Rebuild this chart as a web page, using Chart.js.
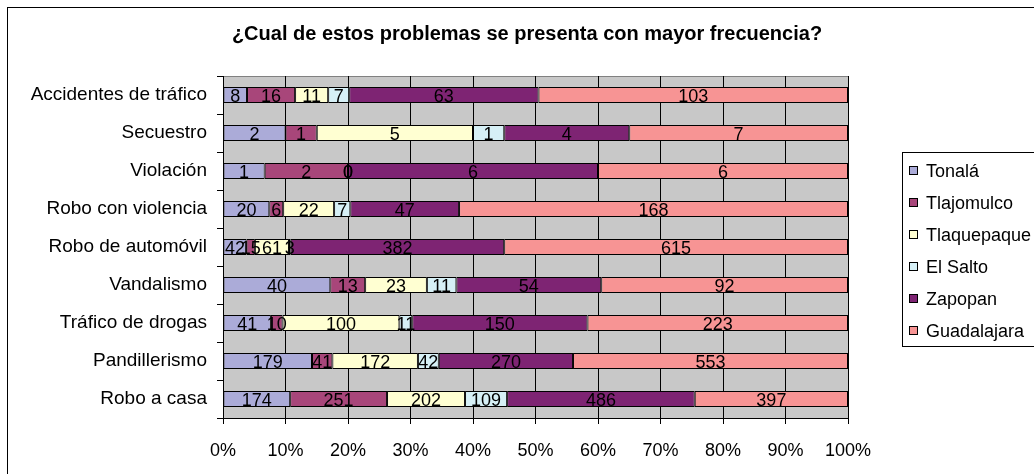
<!DOCTYPE html>
<html>
<head>
<meta charset="utf-8">
<script src="https://cdn.jsdelivr.net/npm/chart.js@4.4.0/dist/chart.umd.min.js"></script>
<style>
  html, body { margin: 0; padding: 0; background: #fff; }
  #wrap { width: 1034px; height: 474px; position: relative; }
</style>
</head>
<body>
<div id="wrap"><canvas id="chart" width="1034" height="474"></canvas></div>
<script>
// categories (top to bottom)
const problemas = ['Accidentes de tráfico', 'Secuestro', 'Violación', 'Robo con violencia',
    'Robo de automóvil', 'Vandalismo', 'Tráfico de drogas', 'Pandillerismo', 'Robo a casa'];

// series values, one array per municipality
const tonala      = [8,   2, 1, 20,  42, 40,  41, 179, 174];
const tlajomulco  = [16,  1, 2,  6,  15, 13,  10,  41, 251];
const tlaquepaque = [11,  5, 0, 22,  61, 23, 100, 172, 202];
const elSalto     = [7,   1, 0,  7,   3, 11,  11,  42, 109];
const zapopan     = [63,  4, 6, 47, 382, 54, 150, 270, 486];
const guadalajara = [103, 7, 6, 168, 615, 92, 223, 553, 397];

const municipios = ['Tonalá', 'Tlajomulco', 'Tlaquepaque', 'El Salto', 'Zapopan', 'Guadalajara'];
const series = [tonala, tlajomulco, tlaquepaque, elSalto, zapopan, guadalajara];
const colores = ['#ABABD8', '#A8467A', '#FFFFD2', '#D6F0F6', '#7E2473', '#F79494'];

const xTicks = [0, 10, 20, 30, 40, 50, 60, 70, 80, 90, 100];

const FONT = 'Arial, "Liberation Sans", sans-serif';

// row totals to turn counts into 100% stacked shares
const totales = problemas.map((_, i) => series.reduce((s, arr) => s + arr[i], 0));

const datasets = series.map((arr, k) => ({
    label: municipios[k],
    data: arr.map((v, i) => v / totales[i] * 100),
    raw: arr,
    backgroundColor: colores[k],
    borderColor: '#000',
    borderWidth: 1,
    borderSkipped: false,
    categoryPercentage: 1,
    barPercentage: 0.42
}));

const frame = {
    id: 'frame',
    beforeDraw(chart) {
        const { ctx, chartArea: a } = chart;
        ctx.save();
        ctx.fillStyle = '#fff';
        ctx.fillRect(0, 0, chart.width, chart.height);
        ctx.strokeStyle = '#000';
        ctx.lineWidth = 1;
        ctx.strokeRect(7.5, 7.5, 1040, 480);
        ctx.fillStyle = '#C8C8C8';
        ctx.fillRect(a.left, a.top, a.right - a.left, a.bottom - a.top);
        ctx.strokeStyle = '#808080';
        ctx.beginPath();
        ctx.moveTo(a.left, a.top + 0.5);
        ctx.lineTo(a.right + 0.5, a.top + 0.5);
        ctx.lineTo(a.right + 0.5, a.bottom);
        ctx.stroke();
        // title
        ctx.fillStyle = '#000';
        ctx.font = 'bold 20px ' + FONT;
        ctx.textAlign = 'center';
        ctx.textBaseline = 'middle';
        ctx.fillText('¿Cual de estos problemas se presenta con mayor frecuencia?', 527, 34);
        ctx.restore();
    },
    afterDatasetsDraw(chart) {
        const { ctx } = chart;
        ctx.save();
        ctx.fillStyle = '#000';
        ctx.font = '18px ' + FONT;
        ctx.textAlign = 'center';
        ctx.textBaseline = 'middle';
        chart.data.datasets.forEach((ds, k) => {
            chart.getDatasetMeta(k).data.forEach((bar, i) => {
                const cx = (bar.x + bar.base) / 2;
                ctx.fillText(String(ds.raw[i]), cx, bar.y + 2);
            });
        });
        // legend
        ctx.strokeStyle = '#000';
        ctx.lineWidth = 1;
        ctx.strokeRect(902.5, 152.5, 200, 194);
        ctx.textAlign = 'left';
        ctx.font = '18px ' + FONT;
        chart.data.datasets.forEach((ds, k) => {
            const y = 171 + k * 32;
            ctx.fillStyle = ds.backgroundColor;
            ctx.fillRect(909, y - 4, 8, 8);
            ctx.strokeRect(909.5, y - 4.5, 8, 8);
            ctx.fillStyle = '#000';
            ctx.fillText(ds.label, 926, y + 1);
        });
        ctx.restore();
    }
};

new Chart(document.getElementById('chart'), {
    type: 'bar',
    data: { labels: problemas, datasets },
    options: {
        indexAxis: 'y',
        responsive: false,
        animation: false,
        layout: { padding: { top: 76, right: 186, left: 0, bottom: 0 } },
        plugins: {
            legend: { display: false },
            title: { display: false },
            tooltip: { enabled: false }
        },
        scales: {
            x: {
                stacked: true,
                min: 0,
                max: 100,
                afterFit(scale) { scale.height = 56; },
                afterBuildTicks(scale) { scale.ticks = xTicks.map(v => ({ value: v })); },
                ticks: {
                    color: '#000',
                    font: { family: FONT, size: 18 },
                    padding: 16,
                    callback: v => v + '%'
                },
                grid: { color: '#000', tickLength: 6, lineWidth: 1 },
                border: { color: '#000' }
            },
            y: {
                stacked: true,
                afterFit(scale) { scale.width = 223; },
                ticks: {
                    color: '#000',
                    font: { family: FONT, size: 19 },
                    padding: 10
                },
                grid: { drawOnChartArea: false, color: '#000', tickLength: 6, offset: true },
                border: { color: '#000' }
            }
        }
    },
    plugins: [frame]
});
</script>
</body>
</html>
